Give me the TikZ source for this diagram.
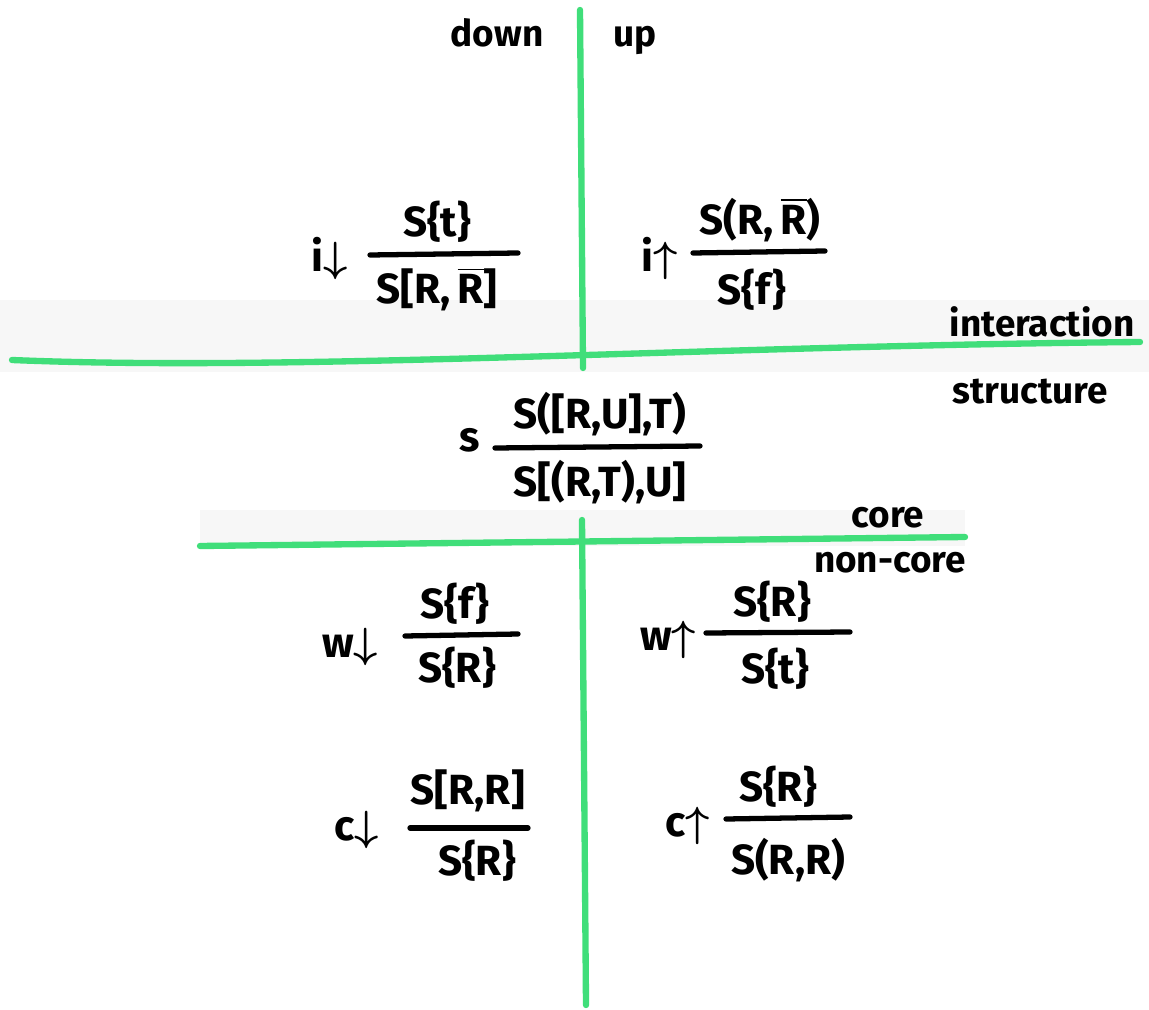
\documentclass[tikz,border=0pt]{standalone}
\usepackage{fontspec}
\setmainfont{Fira Sans}
\usetikzlibrary{positioning}
\definecolor{marker}{RGB}{64,222,122}
\newcommand{\negR}{$\overline{\mbox{R}}$}
\newcommand{\dn}{{\boldmath$\downarrow$}}
\newcommand{\upw}{{\boldmath$\uparrow$}}
\tikzset{
    %Define style for the green dividing lines
    skille/.style={
           draw=marker,
           line width=1.8pt,
           line cap=round},
    %Define style for fraction bars
    brok/.style={
           draw=black,
           line width=1.5pt,
           line cap=round},
    % Define style for formulas and rule names
    formel/.style={
           font=\fontsize{12}{14}\selectfont\bfseries,
           inner sep=1pt},
    % numerator and denominator
    teller/.style={formel, anchor=south},
    nevner/.style={formel, anchor=north},
    % Define style for region words
    ord/.style={
           font=\fontsize{10.5}{12}\selectfont\bfseries,
           inner sep=1pt}
}

\begin{document}
\begin{tikzpicture}[x=0.01cm, y=-0.01cm]
 \useasboundingbox (0,0) rectangle (1149,1010);
 % faint bands behind the horizontal lines
 \fill[black!3] (0,300) rectangle (1149,372);
 \fill[black!3] (200,510) rectangle (965,546);

 % dividing lines
 \coordinate (top) at (580,10);
 \coordinate (mid) at (583,368);
 \coordinate (low) at (582,520);
 \coordinate (bot) at (586,1005);
 \draw[skille] (top) -- (mid);
 \draw[skille] (low) -- (bot);
 \draw[skille] (12,360) .. controls (300,372) and (700,346) .. (1140,342);
 \draw[skille] (200,546) -- (965,537);

 % region words
 \node[ord] (down) at (497,33) {down};
 \node[ord] (up) at (635,40) {up};
 \node[ord] (interaction) at (1042,322) {interaction};
 \node[ord] (structure) at (1030,392) {structure};
 \node[ord] (core) at (888,518) {core};
 \node[ord] (noncore) at (890,563) {non-core};

 % identity
 \node[formel] (id) at (330,258) {i\dn};
 \node[teller] (id-num) at (437,247) {S\{t\}};
 \draw[brok] (370,255) -- (518,253);
 \node[nevner] (id-den) at (437,263) {S[R,\,\negR]};

 \node[formel] (iu) at (660,258) {i\upw};
 \node[teller] (iu-num) at (760,246) {S(R,\,\negR)};
 \draw[brok] (693,253) -- (825,251);
 \node[nevner] (iu-den) at (752,265) {S\{f\}};

 % switch
 \node[formel] (s) at (470,440) {s};
 \node[teller] (s-num) at (600,440) {S([R,U],T)};
 \draw[brok] (495,448) -- (700,446);
 \node[nevner] (s-den) at (600,456) {S[(R,T),U]};

 % weakening
 \node[formel] (wd) at (350,647) {w\dn};
 \node[teller] (wd-num) at (455,629) {S\{f\}};
 \draw[brok] (405,636) -- (518,634);
 \node[nevner] (wd-den) at (457,643) {S\{R\}};

 \node[formel] (wu) at (668,640) {w\upw};
 \node[teller] (wu-num) at (772,627) {S\{R\}};
 \draw[brok] (706,633) -- (850,632);
 \node[nevner] (wu-den) at (775,644) {S\{t\}};

 % contraction
 \node[formel] (cd) at (357,830) {c\dn};
 \node[teller] (cd-num) at (468,816) {S[R,R]};
 \draw[brok] (410,828) -- (528,828);
 \node[nevner] (cd-den) at (477,836) {S\{R\}};

 \node[formel] (cu) at (688,826) {c\upw};
 \node[teller] (cu-num) at (778,812) {S\{R\}};
 \draw[brok] (726,819) -- (850,817);
 \node[nevner] (cu-den) at (788,834) {S(R,R)};
\end{tikzpicture}
\end{document}
